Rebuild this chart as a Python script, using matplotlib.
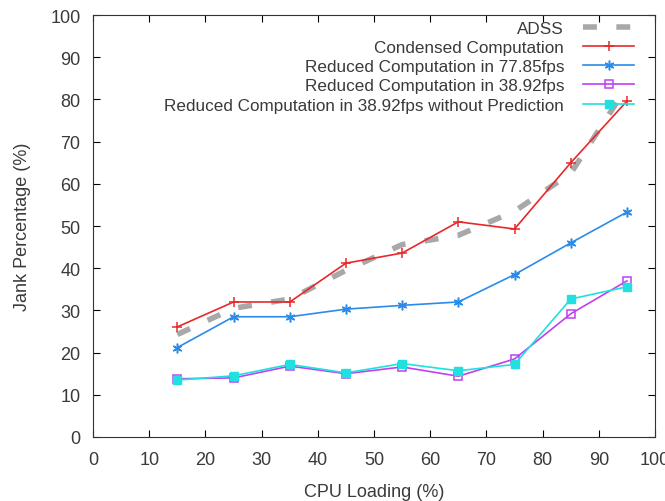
import matplotlib
matplotlib.use('Agg')
import matplotlib.pyplot as plt

cpu = [15, 25, 35, 45, 55, 65, 75, 85, 95]
adss = [24.3, 30.5, 32.7, 39.5, 45.6, 47.8, 53.5, 62.5, 83.0]
condensed = [26.1, 32.0, 32.0, 41.2, 43.6, 51.0, 49.3, 65.0, 79.6]
reduced_77 = [21.2, 28.5, 28.5, 30.3, 31.2, 32.0, 38.5, 46.0, 53.3]
reduced_38 = [13.8, 14.0, 16.8, 15.0, 16.6, 14.4, 18.5, 29.2, 37.0]
reduced_38_np = [13.5, 14.5, 17.2, 15.2, 17.4, 15.7, 17.2, 32.7, 35.6]

plt.rcParams['font.family'] = ['Liberation Sans', 'DejaVu Sans']
txt = '#3a3a3a'

fig = plt.figure(figsize=(6.65, 5.02), dpi=100)
ax = fig.add_axes([0.14, 0.1275, 0.845, 0.8405])

ax.plot(cpu, adss, color='#a8a8a8', lw=4, dashes=(2.5, 3.5), label='ADSS')
ax.plot(cpu, condensed, color='#e8282a', lw=1.2, marker='+', ms=7, mew=1.1,
        label='Condensed Computation')
ax.plot(cpu, reduced_77, color='#2a8ce8', lw=1.2, marker=(6, 2, 0), ms=7, mew=1.1,
        label='Reduced Computation in 77.85fps')
ax.plot(cpu, reduced_38, color='#c040f0', lw=1.2, marker='s', ms=6, mfc='none', mew=1.1,
        label='Reduced Computation in 38.92fps')
ax.plot(cpu, reduced_38_np, color='#20e0e0', lw=1.2, marker='s', ms=6,
        label='Reduced Computation in 38.92fps without Prediction')

ax.set_xlim(0, 100)
ax.set_ylim(0, 100)
ax.set_xticks(range(0, 101, 10))
ax.set_yticks(range(0, 101, 10))
ax.tick_params(direction='in', top=True, right=True, length=5, labelsize=13,
               labelcolor=txt)
ax.tick_params(axis='x', pad=10)
ax.tick_params(axis='y', pad=9)
for s in ax.spines.values():
    s.set_color('#333333')
ax.set_xlabel('CPU Loading (%)', fontsize=13, color=txt, labelpad=11)
ax.set_ylabel('Jank Percentage (%)', fontsize=13, color=txt, labelpad=14)

leg = ax.legend(loc='upper right', frameon=False, markerfirst=False, fontsize=12.3,
                handlelength=3.0, handletextpad=1.1, labelspacing=0.25,
                borderaxespad=0.0, bbox_to_anchor=(0.975, 1.003))
for t in leg.get_texts():
    t.set_color(txt)

fig.savefig('out.png', dpi=100)
